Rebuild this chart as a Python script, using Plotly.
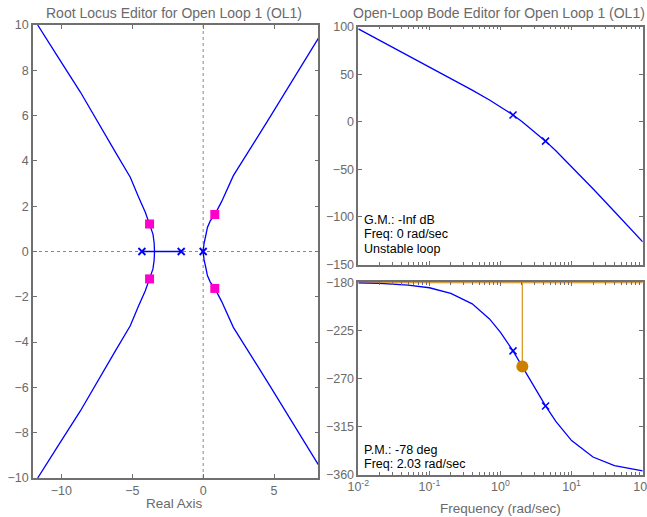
import plotly.graph_objects as go

# ---------------- Root locus data ----------------
rl_ul_x = [-3.43, -3.46, -3.54, -3.66, -3.78, -4.08, -4.55, -5.14, -6.2, -7.13, -8.66, -10.2, -11.67]
rl_ul_y = [0.0, 0.4, 0.77, 1.0, 1.21, 1.73, 2.4, 3.28, 4.4, 5.42, 7.04, 8.55, 10.0]
rl_ll_x = [-3.43, -3.46, -3.54, -3.66, -3.78, -4.08, -4.55, -5.14, -6.2, -7.13, -8.66, -10.2, -11.67]
rl_ll_y = [0.0, -0.4, -0.77, -1.0, -1.21, -1.73, -2.4, -3.28, -4.4, -5.42, -7.04, -8.55, -10.0]
rl_ur_x = [0.0, 0.06, 0.2, 0.3, 0.5, 0.82, 1.3, 1.67, 2.13, 4.72, 8.12]
rl_ur_y = [0.0, 0.35, 0.75, 1.06, 1.35, 1.63, 2.2, 2.69, 3.35, 5.94, 9.41]
rl_lr_x = [0.0, 0.06, 0.2, 0.3, 0.5, 0.82, 1.3, 1.67, 2.13, 4.72, 8.12]
rl_lr_y = [0.0, -0.35, -0.75, -1.06, -1.35, -1.63, -2.2, -2.69, -3.35, -5.94, -9.41]
rl_real_x = [-4.32, -1.55]
rl_real_y = [0.0, 0.0]
ol_pole_x = [-4.32, -1.55, 0.0]
ol_pole_y = [0.0, 0.0, 0.0]
cl_pole_x = [-3.78, -3.78, 0.82, 0.82]
cl_pole_y = [1.21, -1.21, 1.63, -1.63]

# ---------------- Bode data ----------------
freq = [0.01, 0.02, 0.05, 0.1, 0.2, 0.4, 0.7, 1.0, 1.5, 2.0, 3.0, 4.3, 6.0, 10.0, 20.0, 40.0, 100.0]
mag_db = [97.7, 85.7, 69.7, 57.7, 45.6, 33.3, 22.9, 15.9, 7.2, 0.4, -10.1, -20.3, -30.4, -47.0, -70.4, -94.3, -126.1]
phase_deg = [-180.5, -181.0, -182.6, -185.1, -190.3, -200.2, -214.3, -226.8, -244.2, -258.1, -278.3, -295.8,
             -310.3, -328.2, -343.6, -351.7, -356.7]
bode_pole_freq = [1.5, 4.3]
bode_pole_mag = [7.2, -20.3]
bode_pole_phase = [-244.2, -295.8]
pm_freq = [2.03]
pm_phase = [-258.8]
ref_phase = [-180.0, -180.0]
ref_freq = [0.01, 100.0]

rl_xticks = [-10, -5, 0, 5]
rl_yticks = [-10, -8, -6, -4, -2, 0, 2, 4, 6, 8, 10]
mag_ticks = [-150, -100, -50, 0, 50, 100]
phase_ticks = [-360, -315, -270, -225, -180]
freq_ticks = [0.01, 0.1, 1, 10, 100]
freq_ticktext = ["10<sup>-2</sup>", "10<sup>-1</sup>", "10<sup>0</sup>", "10<sup>1</sup>", "10<sup>2</sup>"]

BLUE = "#0000ff"
MAGENTA = "#ff00cc"
ORANGE = "#cc8000"
FRAME = "#707070"
FONT = "Liberation Sans, Arial, sans-serif"
TICKFONT = dict(family=FONT, size=12.5, color="#6a6a6a")

fig = go.Figure()

# root locus branches
for bx, by in [(rl_ul_x, rl_ul_y), (rl_ll_x, rl_ll_y), (rl_ur_x, rl_ur_y), (rl_lr_x, rl_lr_y), (rl_real_x, rl_real_y)]:
    fig.add_trace(go.Scatter(x=bx, y=by, mode="lines", line=dict(color=BLUE, width=1.3),
                             xaxis="x", yaxis="y", showlegend=False, hoverinfo="skip"))
fig.add_trace(go.Scatter(x=ol_pole_x, y=ol_pole_y, mode="markers",
                         marker=dict(symbol="x-thin", size=7, line=dict(color=BLUE, width=1.8)),
                         xaxis="x", yaxis="y", showlegend=False))
fig.add_trace(go.Scatter(x=cl_pole_x, y=cl_pole_y, mode="markers",
                         marker=dict(symbol="square", size=9, color=MAGENTA),
                         xaxis="x", yaxis="y", showlegend=False))

# Bode magnitude
fig.add_trace(go.Scatter(x=freq, y=mag_db, mode="lines", line=dict(color=BLUE, width=1.3),
                         xaxis="x2", yaxis="y2", showlegend=False))
fig.add_trace(go.Scatter(x=bode_pole_freq, y=bode_pole_mag, mode="markers",
                         marker=dict(symbol="x-thin", size=7, line=dict(color=BLUE, width=1.5)),
                         xaxis="x2", yaxis="y2", showlegend=False))

# Bode phase
fig.add_trace(go.Scatter(x=ref_freq, y=ref_phase, mode="lines", line=dict(color=ORANGE, width=2),
                         xaxis="x3", yaxis="y3", showlegend=False, cliponaxis=False))
fig.add_trace(go.Scatter(x=[pm_freq[0], pm_freq[0]], y=[ref_phase[0], pm_phase[0]], mode="lines",
                         line=dict(color="#d99a30", width=1.3),
                         xaxis="x3", yaxis="y3", showlegend=False))
fig.add_trace(go.Scatter(x=freq, y=phase_deg, mode="lines", line=dict(color=BLUE, width=1.3),
                         xaxis="x3", yaxis="y3", showlegend=False))
fig.add_trace(go.Scatter(x=bode_pole_freq, y=bode_pole_phase, mode="markers",
                         marker=dict(symbol="x-thin", size=7, line=dict(color=BLUE, width=1.5)),
                         xaxis="x3", yaxis="y3", showlegend=False))
fig.add_trace(go.Scatter(x=pm_freq, y=pm_phase, mode="markers",
                         marker=dict(symbol="circle", size=12, color=ORANGE),
                         xaxis="x3", yaxis="y3", showlegend=False))

axis_common = dict(showgrid=False, zeroline=False, showline=True, mirror="ticks",
                   linecolor=FRAME, linewidth=1.5, ticks="inside", ticklen=4,
                   tickcolor=FRAME, tickwidth=1, tickfont=TICKFONT, automargin=False)

W, H = 647, 517
def dx(a, b):
    return [a / W, b / W]
def dy(top, bottom):
    return [1 - bottom / H, 1 - top / H]

fig.update_layout(
    width=W, height=H, autosize=False,
    margin=dict(l=0, r=0, t=0, b=0, pad=0, autoexpand=False),
    paper_bgcolor="white", plot_bgcolor="white",
    xaxis=dict(domain=dx(33, 318.3), range=[-12, 8.12], tickvals=rl_xticks, anchor="y", **axis_common),
    yaxis=dict(domain=dy(25, 478), range=[-10, 10], tickvals=rl_yticks, anchor="x", **axis_common),
    xaxis2=dict(domain=dx(358.3, 642.7), type="log", range=[-2, 2], tickvals=freq_ticks,
                showticklabels=False, anchor="y2",
                minor=dict(ticks="inside", ticklen=2.5, tickcolor=FRAME, dtick="D1", showgrid=False),
                **axis_common),
    yaxis2=dict(domain=dy(26.7, 264.5), range=[-150, 100], tickvals=mag_ticks, anchor="x2", **axis_common),
    xaxis3=dict(domain=dx(358.3, 642.7), type="log", range=[-2, 2], tickvals=freq_ticks,
                ticktext=freq_ticktext, anchor="y3", ticklabeloverflow="allow",
                minor=dict(ticks="inside", ticklen=2.5, tickcolor=FRAME, dtick="D1", showgrid=False),
                **axis_common),
    yaxis3=dict(domain=dy(282.3, 474.5), range=[-360, -180], tickvals=phase_ticks, anchor="x3", **axis_common),
    shapes=[
        dict(type="line", xref="x", yref="y domain", x0=0, x1=0, y0=0, y1=1,
             line=dict(color="#888888", width=1, dash="dot"), layer="below"),
        dict(type="line", xref="x domain", yref="y", x0=0, x1=1, y0=0, y1=0,
             line=dict(color="#888888", width=1, dash="dot"), layer="below"),
    ],
)

title_font = dict(family=FONT, size=14, color="#6a6a6a")
label_font = dict(family=FONT, size=13.5, color="#6a6a6a")
text_font = dict(family=FONT, size=12.5, color="#000000")

annotations = [
    dict(text="Root Locus Editor for Open Loop 1 (OL1)", x=174 / W, y=1 - 12.5 / H, font=title_font),
    dict(text="Open-Loop Bode Editor for Open Loop 1 (OL1)", x=499 / W, y=1 - 12.5 / H, font=title_font),
    dict(text="Real Axis", x=174 / W, y=1 - 503 / H, font=label_font),
    dict(text="Frequency (rad/sec)", x=500 / W, y=1 - 508.5 / H, font=label_font),
]
for t, yy in [("G.M.: -Inf dB", 220), ("Freq: 0 rad/sec", 234.3), ("Unstable loop", 248.5),
              ("P.M.: -78 deg", 449.8), ("Freq: 2.03 rad/sec", 464)]:
    annotations.append(dict(text=t, x=363 / W, y=1 - yy / H, xanchor="left", font=text_font))
for a in annotations:
    a.update(xref="paper", yref="paper", showarrow=False, yanchor="middle", borderpad=0)
    a.setdefault("xanchor", "center")
fig.update_layout(annotations=annotations)

fig.write_html("out.html", config={"displayModeBar": False},
               post_script="document.body.style.margin='0px';")
